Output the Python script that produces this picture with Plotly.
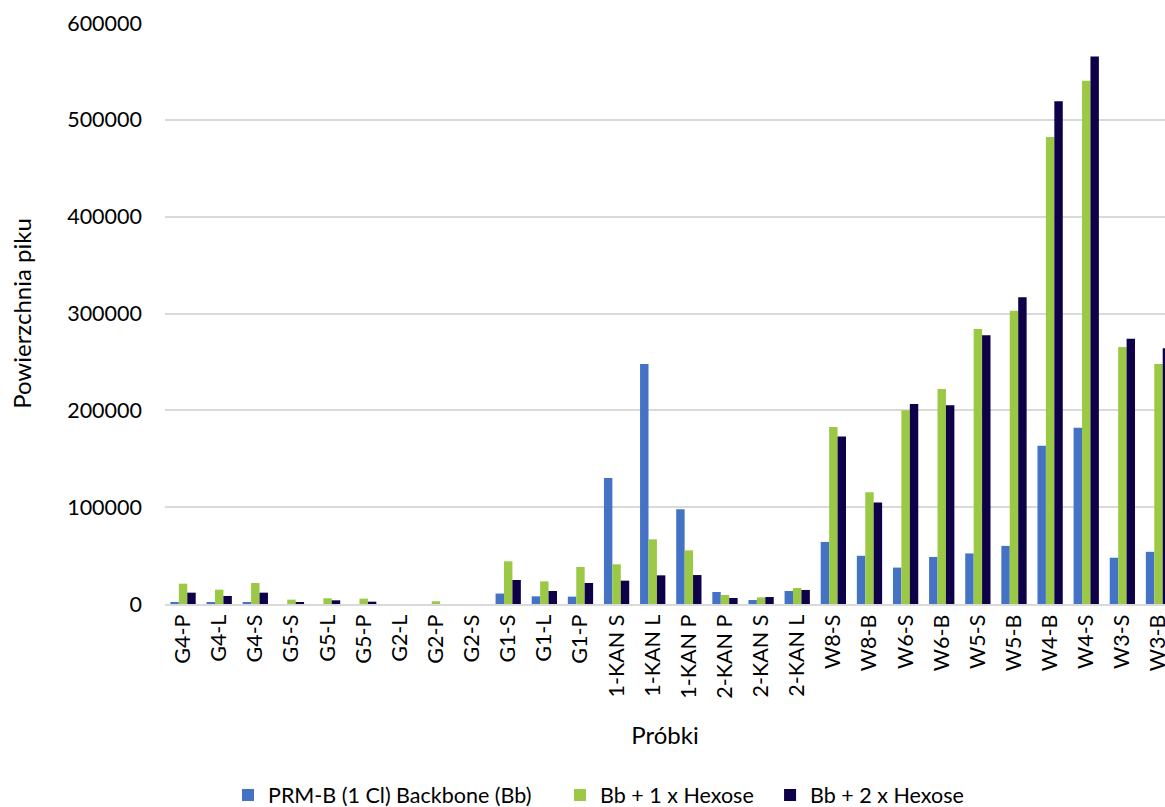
import plotly.graph_objects as go

categories = ["G4-P", "G4-L", "G4-S", "G5-S", "G5-L", "G5-P", "G2-L", "G2-P", "G2-S",
              "G1-S", "G1-L", "G1-P", "1-KAN S", "1-KAN L", "1-KAN P", "2-KAN P",
              "2-KAN S", "2-KAN L", "W8-S", "W8-B", "W6-S", "W6-B", "W5-S", "W5-B",
              "W4-B", "W4-S", "W3-S", "W3-B"]

backbone = [1700, 1400, 1700, 0, 0, 0, 0, 0, 0,
            10800, 7900, 7600, 130000, 247800, 97800, 12400,
            4100, 13400, 64100, 49800, 37600, 48600, 52200, 60000,
            163300, 182000, 47800, 53900]

hexose1 = [21000, 14800, 21700, 4500, 5900, 5500, 0, 2800, 0,
           44100, 23400, 38200, 41000, 66800, 55400, 9300,
           6900, 16500, 182900, 115500, 200000, 222000, 284000, 302900,
           482400, 540400, 265300, 247800]

hexose2 = [11700, 8300, 11700, 1700, 3800, 2400, 0, 0, 0,
           24800, 13400, 21700, 24100, 29600, 29900, 6200,
           7200, 14500, 173100, 104900, 206500, 205300, 277600, 316700,
           519200, 565300, 273900, 264100]

series_names = ["PRM-B (1 Cl) Backbone (Bb)", "Bb + 1 x Hexose", "Bb + 2 x Hexose"]
colors = ["#4472C4", "#9BC945", "#0E0049"]
legend_ids = ["legend", "legend2", "legend3"]
legend_x = [0.1957, 0.4807, 0.661]

x_idx = list(range(len(categories)))

fig = go.Figure()
for name, vals, col, lg in zip(series_names, [backbone, hexose1, hexose2], colors, legend_ids):
    fig.add_trace(go.Bar(x=x_idx, y=vals, name=name, marker_color=col,
                         marker_line_width=0, legend=lg))

FONT = "Lato"
legend_common = dict(orientation="h", xref="container", yref="container",
                     xanchor="left", y=0.0149, yanchor="middle",
                     font=dict(size=21.5), itemwidth=30, bgcolor="rgba(0,0,0,0)")

fig.update_layout(
    width=1165, height=807,
    margin=dict(l=165, r=0, t=23, b=203),
    paper_bgcolor="white", plot_bgcolor="white",
    barmode="group", bargap=0.3, bargroupgap=0,
    font=dict(family=FONT, size=21, color="#000000"),
    legend=dict(x=legend_x[0], **legend_common),
    legend2=dict(x=legend_x[1], **legend_common),
    legend3=dict(x=legend_x[2], **legend_common),
    showlegend=True,
)
fig.update_xaxes(
    tickmode="array", tickvals=x_idx, ticktext=categories,
    range=[-0.5, 27.18], tickangle=-90, showgrid=False,
    showline=True, linecolor="#D9D9D9", linewidth=2, ticks="",
    tickfont=dict(size=21.5), ticklabeloverflow="allow",
    title=dict(text="Próbki", font=dict(size=24), standoff=30),
    automargin=False,
)
fig.update_yaxes(
    range=[0, 600000], dtick=100000, tickformat="d",
    showgrid=True, gridcolor="#D9D9D9", gridwidth=2,
    zeroline=False, showline=False, ticks="",
    ticklabelstandoff=22,
    tickfont=dict(size=21.5),
    title=dict(text="Powierzchnia piku", font=dict(size=24), standoff=28),
    automargin=False,
)

fig.write_html(
    "out.html",
    config={"displayModeBar": False},
    post_script="document.body.style.margin='0';document.body.style.overflow='hidden';",
)
